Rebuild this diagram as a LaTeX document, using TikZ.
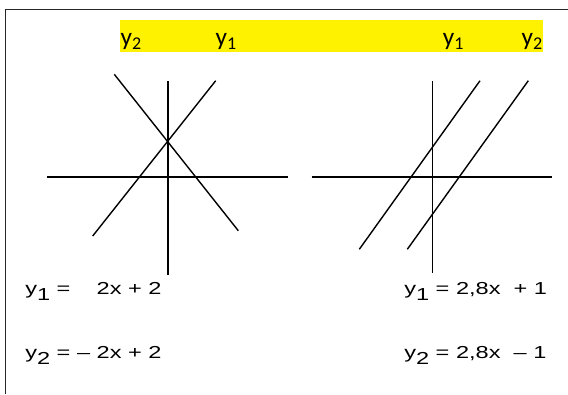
\documentclass[tikz,border=0pt]{standalone}
\usepackage{fontspec}
\setmainfont{Liberation Sans}
\newfontfamily\labelfont{Carlito}
\newfontfamily\eqfont[FakeStretch=1.36]{Liberation Sans}
\newcommand\labsub[1]{\raisebox{-3.3pt}{\fontsize{13.5}{13.5}\selectfont #1}}
\newcommand\eqsub[1]{\raisebox{-4.6pt}{#1}}
\usetikzlibrary{arrows.meta}

\begin{document}
\begin{tikzpicture}[
  x=0.75pt,
  y=-0.75pt,
  frame line/.style={line width=1.2pt, draw=black!85},
  axis line/.style={line width=1.15pt, draw=black},
  graph line/.style={line width=1.05pt, draw=black},
  band label/.style={anchor=base west, inner sep=0pt,
    font=\labelfont\fontsize{19}{19}\selectfont},
  equation/.style={anchor=base west, inner sep=0pt,
    font=\eqfont\fontsize{13}{13}\selectfont}
]
  \path[use as bounding box] (0,0) rectangle (568,394);

  % Frame, top and left edges only.
  \draw[frame line] (5.5,394) -- (5.5,9.5) -- (568,9.5);

  % Highlighted band with the line names.
  \fill[yellow] (120,19.7) rectangle (542.7,52.3);
  \node[band label] (lA2) at (120.3,45.5) {y\labsub{2}};
  \node[band label] (lA1) at (215.3,45.5) {y\labsub{1}};
  \node[band label] (lB1) at (442.6,45.5) {y\labsub{1}};
  \node[band label] (lB2) at (521.3,45.5) {y\labsub{2}};

  % Left graph: lines crossing on the y-axis.
  \coordinate (axA W) at (47,177);
  \coordinate (axA E) at (288,177);
  \coordinate (axA N) at (168,81);
  \coordinate (axA S) at (168,275);
  \draw[axis line] (axA W) -- (axA E);
  \draw[axis line] (axA N) -- (axA S);
  \coordinate (gA1 s) at (92.7,236);
  \coordinate (gA1 e) at (215.7,80.7);
  \coordinate (gA2 s) at (114.3,74.3);
  \coordinate (gA2 e) at (238.3,230.7);
  \draw[graph line] (gA1 s) -- (gA1 e);
  \draw[graph line] (gA2 s) -- (gA2 e);

  % Right graph: two parallel lines.
  \coordinate (axB W) at (311.7,177);
  \coordinate (axB E) at (552.3,177);
  \coordinate (axB N) at (432.3,81);
  \coordinate (axB S) at (432.3,273);
  \draw[axis line] (axB W) -- (axB E);
  \draw[axis line] (axB N) -- (axB S);
  \coordinate (gB1 s) at (359.3,249.3);
  \coordinate (gB1 e) at (480,80.7);
  \coordinate (gB2 s) at (407.3,249.3);
  \coordinate (gB2 e) at (528.3,80.7);
  \draw[graph line] (gB1 s) -- (gB1 e);
  \draw[graph line] (gB2 s) -- (gB2 e);

  % Equations.
  \node[equation] (eqA1) at (25,294) {y\eqsub{1} =\hphantom{ –} 2x + 2};
  \node[equation] (eqA2) at (25,358.5) {y\eqsub{2} = – 2x + 2};
  \node[equation] (eqB1) at (404,294) {y\eqsub{1} = 2,8x\ \ + 1};
  \node[equation] (eqB2) at (404,358.5) {y\eqsub{2} = 2,8x\ \ – 1};
\end{tikzpicture}
\end{document}
